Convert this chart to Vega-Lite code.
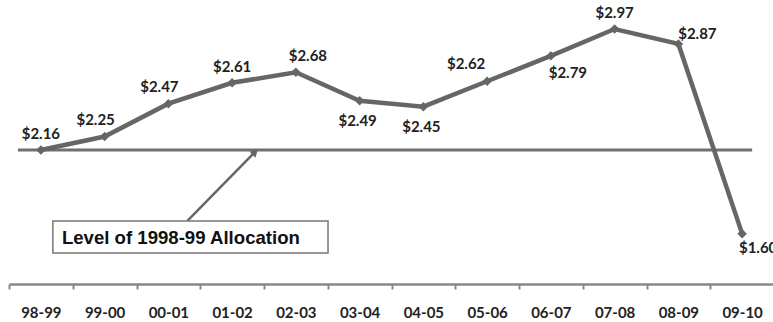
{
  "$schema": "https://vega.github.io/schema/vega-lite/v6.json",
  "width": 765,
  "height": 284,
  "padding": {"left": 8, "top": 0, "right": 0, "bottom": 0},
  "background": "white",
  "config": {"view": {"stroke": null}},
  "data": {"values": [
    {"year": "98-99", "value": 2.16},
    {"year": "99-00", "value": 2.25},
    {"year": "00-01", "value": 2.47},
    {"year": "01-02", "value": 2.61},
    {"year": "02-03", "value": 2.68},
    {"year": "03-04", "value": 2.49},
    {"year": "04-05", "value": 2.45},
    {"year": "05-06", "value": 2.62},
    {"year": "06-07", "value": 2.79},
    {"year": "07-08", "value": 2.97},
    {"year": "08-09", "value": 2.87},
    {"year": "09-10", "value": 1.60}
  ]},
  "layer": [
    {
      "mark": {"type": "line", "color": "#666666", "strokeWidth": 4.5, "opacity": 0},
      "encoding": {
        "x": {
          "field": "year", "type": "ordinal", "sort": null,
          "scale": {"type": "band", "paddingInner": 0, "paddingOuter": 0,
            "domain": ["98-99", "99-00", "00-01", "01-02", "02-03", "03-04", "04-05", "05-06", "06-07", "07-08", "08-09", "09-10"]},
          "axis": {
            "title": null, "tickBand": "extent", "domainColor": "#888888", "domainWidth": 2.5,
            "tickColor": "#888888", "tickWidth": 2, "tickSize": 5, "labelAngle": 0,
            "labelFont": "Lato", "labelFontWeight": "bold", "labelFontSize": 15, "labelColor": "#222222",
            "labelPadding": 16
          }
        },
        "y": {"field": "value", "type": "quantitative", "scale": {"domain": [1.263, 3.164], "nice": false, "zero": false}, "axis": null}
      }
    },
    {
      "data": {"values": [{}]},
      "mark": {"type": "rule", "color": "#707070", "strokeWidth": 3, "xOffset": -23, "x2Offset": 10},
      "encoding": {
        "x": {"datum": "98-99"},
        "x2": {"datum": "09-10"},
        "y": {"datum": 2.16, "type": "quantitative"}
      }
    },
    {
      "mark": {"type": "line", "color": "#666666", "strokeWidth": 4.5},
      "encoding": {
        "x": {"field": "year", "type": "ordinal", "sort": null},
        "y": {"field": "value", "type": "quantitative"}
      }
    },
    {
      "mark": {"type": "point", "shape": "diamond", "filled": true, "color": "#666666", "size": 90, "opacity": 1},
      "encoding": {
        "x": {"field": "year", "type": "ordinal", "sort": null},
        "y": {"field": "value", "type": "quantitative"}
      }
    },
    {
      "transform": [{"filter": {"field": "year", "oneOf": ["98-99", "01-02", "07-08"]}}],
      "mark": {"type": "text", "font": "Lato", "fontWeight": "bold", "fontSize": 15, "color": "#222222", "baseline": "middle", "dx": 0, "dy": -16},
      "encoding": {
        "x": {"field": "year", "type": "ordinal", "sort": null},
        "y": {"field": "value", "type": "quantitative"},
        "text": {"field": "value", "type": "quantitative", "format": "$.2f"}
      }
    },
    {
      "transform": [{"filter": {"field": "year", "oneOf": ["99-00", "00-01"]}}],
      "mark": {"type": "text", "font": "Lato", "fontWeight": "bold", "fontSize": 15, "color": "#222222", "baseline": "middle", "dx": -9, "dy": -17},
      "encoding": {
        "x": {"field": "year", "type": "ordinal", "sort": null},
        "y": {"field": "value", "type": "quantitative"},
        "text": {"field": "value", "type": "quantitative", "format": "$.2f"}
      }
    },
    {
      "transform": [{"filter": {"field": "year", "oneOf": ["02-03"]}}],
      "mark": {"type": "text", "font": "Lato", "fontWeight": "bold", "fontSize": 15, "color": "#222222", "baseline": "middle", "dx": 12, "dy": -16},
      "encoding": {
        "x": {"field": "year", "type": "ordinal", "sort": null},
        "y": {"field": "value", "type": "quantitative"},
        "text": {"field": "value", "type": "quantitative", "format": "$.2f"}
      }
    },
    {
      "transform": [{"filter": {"field": "year", "oneOf": ["03-04", "04-05"]}}],
      "mark": {"type": "text", "font": "Lato", "fontWeight": "bold", "fontSize": 15, "color": "#222222", "baseline": "middle", "dx": -2, "dy": 20},
      "encoding": {
        "x": {"field": "year", "type": "ordinal", "sort": null},
        "y": {"field": "value", "type": "quantitative"},
        "text": {"field": "value", "type": "quantitative", "format": "$.2f"}
      }
    },
    {
      "transform": [{"filter": {"field": "year", "oneOf": ["05-06"]}}],
      "mark": {"type": "text", "font": "Lato", "fontWeight": "bold", "fontSize": 15, "color": "#222222", "baseline": "middle", "dx": -21, "dy": -17},
      "encoding": {
        "x": {"field": "year", "type": "ordinal", "sort": null},
        "y": {"field": "value", "type": "quantitative"},
        "text": {"field": "value", "type": "quantitative", "format": "$.2f"}
      }
    },
    {
      "transform": [{"filter": {"field": "year", "oneOf": ["06-07"]}}],
      "mark": {"type": "text", "font": "Lato", "fontWeight": "bold", "fontSize": 15, "color": "#222222", "baseline": "middle", "dx": 17, "dy": 17},
      "encoding": {
        "x": {"field": "year", "type": "ordinal", "sort": null},
        "y": {"field": "value", "type": "quantitative"},
        "text": {"field": "value", "type": "quantitative", "format": "$.2f"}
      }
    },
    {
      "transform": [{"filter": {"field": "year", "oneOf": ["08-09"]}}],
      "mark": {"type": "text", "font": "Lato", "fontWeight": "bold", "fontSize": 15, "color": "#222222", "baseline": "middle", "dx": 19, "dy": -10},
      "encoding": {
        "x": {"field": "year", "type": "ordinal", "sort": null},
        "y": {"field": "value", "type": "quantitative"},
        "text": {"field": "value", "type": "quantitative", "format": "$.2f"}
      }
    },
    {
      "transform": [{"filter": {"field": "year", "oneOf": ["09-10"]}}],
      "mark": {"type": "text", "font": "Lato", "fontWeight": "bold", "fontSize": 15, "color": "#222222", "baseline": "middle", "dx": 16, "dy": 14},
      "encoding": {
        "x": {"field": "year", "type": "ordinal", "sort": null},
        "y": {"field": "value", "type": "quantitative"},
        "text": {"field": "value", "type": "quantitative", "format": "$.2f"}
      }
    },
    {
      "data": {"values": [{}]},
      "mark": {"type": "rule", "color": "#666666", "strokeWidth": 2.5, "xOffset": 19, "x2Offset": 22},
      "encoding": {
        "x": {"datum": "00-01"},
        "x2": {"datum": "01-02"},
        "y": {"datum": 1.685, "type": "quantitative"},
        "y2": {"datum": 2.14}
      }
    },
    {
      "data": {"values": [{}]},
      "mark": {"type": "point", "shape": "triangle-up", "filled": true, "color": "#666666", "size": 70, "opacity": 1, "angle": 45, "xOffset": 23},
      "encoding": {
        "x": {"datum": "01-02"},
        "y": {"datum": 2.145, "type": "quantitative"}
      }
    },
    {
      "data": {"values": [{}]},
      "mark": {"type": "rect", "fill": "white", "stroke": "#777777", "strokeWidth": 1.5, "xOffset": 12, "x2Offset": -31.6},
      "encoding": {
        "x": {"datum": "98-99"},
        "x2": {"datum": "03-04"},
        "y": {"datum": 1.685, "type": "quantitative"},
        "y2": {"datum": 1.471}
      }
    },
    {
      "data": {"values": [{"label": "Level of 1998-99 Allocation"}]},
      "mark": {"type": "text", "font": "Liberation Sans", "fontWeight": "bold", "fontSize": 18.6, "color": "#111111", "align": "left", "baseline": "middle", "dx": 21},
      "encoding": {
        "x": {"datum": "98-99"},
        "y": {"datum": 1.571, "type": "quantitative"},
        "text": {"field": "label"}
      }
    }
  ]
}
